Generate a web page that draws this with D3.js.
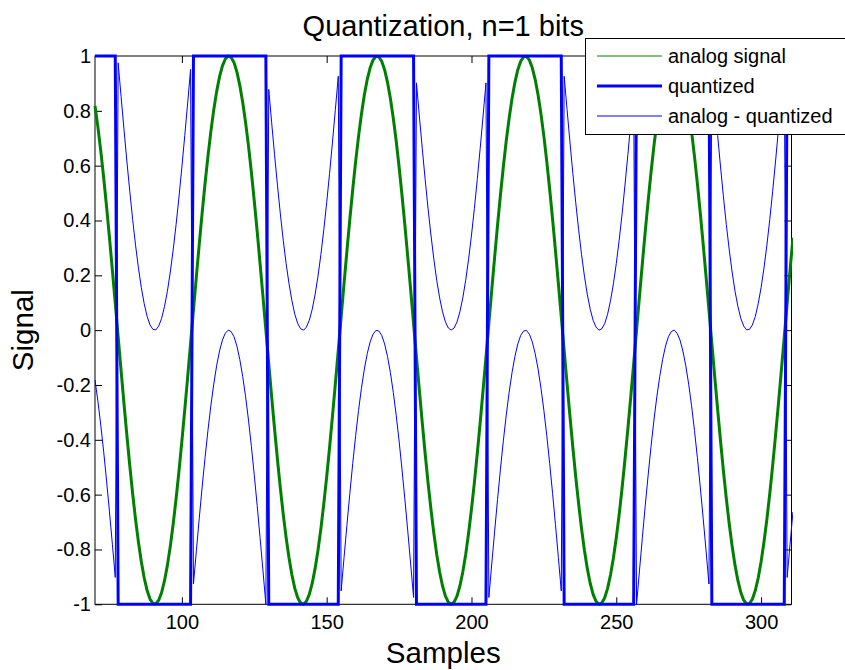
<!DOCTYPE html>
<html>
<head>
<meta charset="utf-8">
<script src="https://cdn.jsdelivr.net/npm/d3@7"></script>
<style>
  body { margin: 0; background: #fff; }
  svg { display: block; }
  text { font-family: "Liberation Sans", Arial, Helvetica, sans-serif; fill: #000; }
</style>
</head>
<body>
<svg id="chart" width="845" height="670"></svg>
<script>
// Sample numbers run consecutively from this index.
const firstSample = 70;

// Analog input, one value per sample (samples 70 .. 311).
const analog = [
  0.818, 0.741, 0.653, 0.556, 0.450, 0.337, 0.219, 0.098, -0.025, -0.147,
  -0.267, -0.383, -0.493, -0.596, -0.690, -0.773, -0.845, -0.904, -0.950, -0.981,
  -0.997, -0.999, -0.985, -0.957, -0.914, -0.858, -0.788, -0.707, -0.615, -0.514,
  -0.405, -0.290, -0.171, -0.049, 0.074, 0.195, 0.314, 0.428, 0.535, 0.634,
  0.724, 0.803, 0.870, 0.924, 0.964, 0.989, 1.000, 0.995, 0.976, 0.942,
  0.893, 0.831, 0.757, 0.672, 0.576, 0.471, 0.360, 0.243, 0.122, 0.000,
  -0.122, -0.243, -0.360, -0.471, -0.576, -0.672, -0.757, -0.831, -0.893, -0.942,
  -0.976, -0.995, -1.000, -0.989, -0.964, -0.924, -0.870, -0.803, -0.724, -0.634,
  -0.535, -0.428, -0.314, -0.195, -0.074, 0.049, 0.171, 0.290, 0.405, 0.514,
  0.615, 0.707, 0.788, 0.858, 0.914, 0.957, 0.985, 0.999, 0.997, 0.981,
  0.950, 0.904, 0.845, 0.773, 0.690, 0.596, 0.493, 0.383, 0.267, 0.147,
  0.025, -0.098, -0.219, -0.337, -0.450, -0.556, -0.653, -0.741, -0.818, -0.882,
  -0.933, -0.970, -0.992, -1.000, -0.992, -0.970, -0.933, -0.882, -0.818, -0.741,
  -0.653, -0.556, -0.450, -0.337, -0.219, -0.098, 0.025, 0.147, 0.267, 0.383,
  0.493, 0.596, 0.690, 0.773, 0.845, 0.904, 0.950, 0.981, 0.997, 0.999,
  0.985, 0.957, 0.914, 0.858, 0.788, 0.707, 0.615, 0.514, 0.405, 0.290,
  0.171, 0.049, -0.074, -0.195, -0.314, -0.428, -0.535, -0.634, -0.724, -0.803,
  -0.870, -0.924, -0.964, -0.989, -1.000, -0.995, -0.976, -0.942, -0.893, -0.831,
  -0.757, -0.672, -0.576, -0.471, -0.360, -0.243, -0.122, 0.000, 0.122, 0.243,
  0.360, 0.471, 0.576, 0.672, 0.757, 0.831, 0.893, 0.942, 0.976, 0.995,
  1.000, 0.989, 0.964, 0.924, 0.870, 0.803, 0.724, 0.634, 0.535, 0.428,
  0.314, 0.195, 0.074, -0.049, -0.171, -0.290, -0.405, -0.514, -0.615, -0.707,
  -0.788, -0.858, -0.914, -0.957, -0.985, -0.999, -0.997, -0.981, -0.950, -0.904,
  -0.845, -0.773, -0.690, -0.596, -0.493, -0.383, -0.267, -0.147, -0.025, 0.098,
  0.219, 0.337
];

// 1-bit quantizer output for the same samples.
const quantized = [
  1, 1, 1, 1, 1, 1, 1, 1, -1, -1,
  -1, -1, -1, -1, -1, -1, -1, -1, -1, -1,
  -1, -1, -1, -1, -1, -1, -1, -1, -1, -1,
  -1, -1, -1, -1, 1, 1, 1, 1, 1, 1,
  1, 1, 1, 1, 1, 1, 1, 1, 1, 1,
  1, 1, 1, 1, 1, 1, 1, 1, 1, 1,
  -1, -1, -1, -1, -1, -1, -1, -1, -1, -1,
  -1, -1, -1, -1, -1, -1, -1, -1, -1, -1,
  -1, -1, -1, -1, -1, 1, 1, 1, 1, 1,
  1, 1, 1, 1, 1, 1, 1, 1, 1, 1,
  1, 1, 1, 1, 1, 1, 1, 1, 1, 1,
  1, -1, -1, -1, -1, -1, -1, -1, -1, -1,
  -1, -1, -1, -1, -1, -1, -1, -1, -1, -1,
  -1, -1, -1, -1, -1, -1, 1, 1, 1, 1,
  1, 1, 1, 1, 1, 1, 1, 1, 1, 1,
  1, 1, 1, 1, 1, 1, 1, 1, 1, 1,
  1, 1, -1, -1, -1, -1, -1, -1, -1, -1,
  -1, -1, -1, -1, -1, -1, -1, -1, -1, -1,
  -1, -1, -1, -1, -1, -1, -1, 1, 1, 1,
  1, 1, 1, 1, 1, 1, 1, 1, 1, 1,
  1, 1, 1, 1, 1, 1, 1, 1, 1, 1,
  1, 1, 1, -1, -1, -1, -1, -1, -1, -1,
  -1, -1, -1, -1, -1, -1, -1, -1, -1, -1,
  -1, -1, -1, -1, -1, -1, -1, -1, -1, 1,
  1, 1
];

const xTicks = [100, 150, 200, 250, 300];
const yTicks = [-1, -0.8, -0.6, -0.4, -0.2, 0, 0.2, 0.4, 0.6, 0.8, 1];
const xDomain = [70, 310.5];
const yDomain = [-1, 1];

const titleText = "Quantization, n=1 bits";
const xLabelText = "Samples";
const yLabelText = "Signal";
const legendLabels = ["analog signal", "quantized", "analog - quantized"];

// Per-sample rows: sample number, analog, quantized, and their difference.
const rows = analog.map((v, i) => ({
  n: firstSample + i,
  analog: v,
  quantized: quantized[i],
  diff: v - quantized[i]
}));

const svg = d3.select("#chart");
const plot = { left: 95, right: 791.5, top: 56, bottom: 604.3 };

const x = d3.scaleLinear().domain(xDomain).range([plot.left, plot.right]);
const y = d3.scaleLinear().domain(yDomain).range([plot.bottom, plot.top]);

const fmt = v => String(v).replace("\u2212", "-");
const tickLen = 7;

// Axes box
svg.append("rect")
  .attr("x", plot.left).attr("y", plot.top)
  .attr("width", plot.right - plot.left)
  .attr("height", plot.bottom - plot.top)
  .attr("fill", "none").attr("stroke", "#000").attr("stroke-width", 1);

function styleAxis(g) {
  g.select(".domain").remove();
  g.selectAll(".tick line").attr("stroke", "#000").attr("stroke-width", 1);
  g.selectAll(".tick text").attr("font-family", null).attr("font-size", 20).attr("fill", "#000");
}

svg.append("g")
  .attr("transform", `translate(0,${plot.bottom})`)
  .call(d3.axisBottom(x).tickValues(xTicks).tickSizeInner(-tickLen).tickSizeOuter(0)
    .tickPadding(11).tickFormat(fmt))
  .call(styleAxis)
  .attr("font-family", null).attr("font-size", null);

svg.append("g")
  .attr("transform", `translate(0,${plot.top})`)
  .call(d3.axisTop(x).tickValues(xTicks).tickSizeInner(-tickLen).tickSizeOuter(0).tickFormat(""))
  .call(styleAxis);

svg.append("g")
  .attr("transform", `translate(${plot.left},0)`)
  .call(d3.axisLeft(y).tickValues(yTicks).tickSizeInner(-tickLen).tickSizeOuter(0)
    .tickPadding(4).tickFormat(fmt))
  .call(styleAxis)
  .attr("font-family", null).attr("font-size", null);

svg.append("g")
  .attr("transform", `translate(${plot.right},0)`)
  .call(d3.axisRight(y).tickValues(yTicks).tickSizeInner(-tickLen).tickSizeOuter(0).tickFormat(""))
  .call(styleAxis);

// Data lines, clipped to the axes area
svg.append("clipPath").attr("id", "plot-clip")
  .append("rect")
  .attr("x", plot.left - 2).attr("y", plot.top - 4)
  .attr("width", plot.right - plot.left + 3.5)
  .attr("height", plot.bottom - plot.top + 8);

const data = svg.append("g").attr("clip-path", "url(#plot-clip)");

const lineOf = key => d3.line().x(d => x(d.n)).y(d => y(d[key]));

data.append("path").datum(rows)
  .attr("d", lineOf("analog"))
  .attr("fill", "none").attr("stroke", "#008000").attr("stroke-width", 3)
  .attr("stroke-linejoin", "round");

data.append("path").datum(rows)
  .attr("d", lineOf("quantized"))
  .attr("fill", "none").attr("stroke", "#0000ff").attr("stroke-width", 3)
  .attr("stroke-linejoin", "miter");

data.append("path").datum(rows)
  .attr("d", lineOf("diff"))
  .attr("fill", "none").attr("stroke", "#0000ff").attr("stroke-width", 1)
  .attr("stroke-linejoin", "round");

// Title and axis labels
svg.append("text")
  .attr("x", (plot.left + plot.right) / 2).attr("y", 36)
  .attr("text-anchor", "middle").attr("font-size", 29)
  .text(titleText);

svg.append("text")
  .attr("x", (plot.left + plot.right) / 2).attr("y", 663)
  .attr("text-anchor", "middle").attr("font-size", 29.5)
  .text(xLabelText);

svg.append("text")
  .attr("transform", `translate(33,${(plot.top + plot.bottom) / 2}) rotate(-90)`)
  .attr("text-anchor", "middle").attr("font-size", 29.5)
  .text(yLabelText);

// Legend
const legendStyles = [
  { color: "#008000", width: 1 },
  { color: "#0000ff", width: 3 },
  { color: "#0000ff", width: 1 }
];
const legend = svg.append("g");
legend.append("rect")
  .attr("x", 585.5).attr("y", 38.5)
  .attr("width", 270).attr("height", 96)
  .attr("fill", "#fff").attr("stroke", "#000").attr("stroke-width", 1);

const rowY = d3.scalePoint().domain(legendLabels).range([56, 116]);
const items = legend.selectAll("g.item").data(legendLabels).join("g")
  .attr("class", "item")
  .attr("transform", d => `translate(0,${rowY(d)})`);
items.append("line")
  .attr("x1", 597).attr("x2", 662)
  .attr("y1", 0).attr("y2", 0)
  .attr("stroke", (d, i) => legendStyles[i].color)
  .attr("stroke-width", (d, i) => legendStyles[i].width);
items.append("text")
  .attr("x", 668).attr("y", 0).attr("dy", "0.35em")
  .attr("font-size", 20)
  .text(d => d);
</script>
</body>
</html>
